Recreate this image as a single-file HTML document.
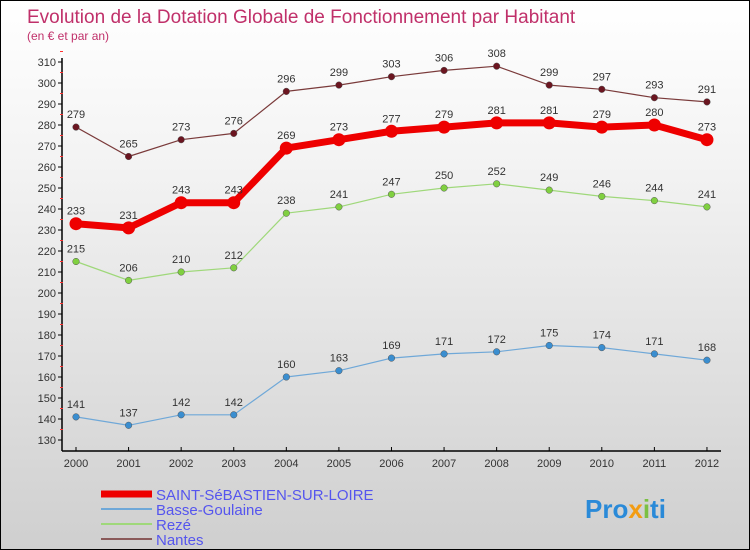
<!DOCTYPE html>
<html><head><meta charset="utf-8"><style>
body{margin:0}
#wrap{position:relative;width:750px;height:550px;box-sizing:border-box;border:1px solid #000;background:linear-gradient(#fff 0%,#f3f3f3 30%,#cfcfcf 100%);font-family:"Liberation Sans",sans-serif;overflow:hidden}
svg{position:absolute;left:0;top:0}
</style></head><body>
<div id="wrap">
<svg id="c" width="750" height="550">
<text x="26" y="22" font-size="19" fill="#c0306a">Evolution de la Dotation Globale de Fonctionnement par Habitant</text>
<text x="26" y="39" font-size="12" fill="#c0306a">(en € et par an)</text>
<text x="584" y="517" font-size="26" font-weight="bold" fill="#2a8ad8">Pro<tspan fill="#f39c12">x</tspan><tspan fill="#7bc043">i</tspan>ti</text>
</svg>
</div>
<script>
const years=[2000,2001,2002,2003,2004,2005,2006,2007,2008,2009,2010,2011,2012];
const yTicks=[130,140,150,160,170,180,190,200,210,220,230,240,250,260,270,280,290,300,310];
const nantes=[279,265,273,276,296,299,303,306,308,299,297,293,291];
const saint=[233,231,243,243,269,273,277,279,281,281,279,280,273];
const reze=[215,206,210,212,238,241,247,250,252,249,246,244,241];
const basse=[141,137,142,142,160,163,169,171,172,175,174,171,168];
const NS="http://www.w3.org/2000/svg";
const svg=document.getElementById('c');
const X=i=>75+i*52.58;
const Y=v=>61+(310-v)*2.1;
function mk(t,a,p){const e=document.createElementNS(NS,t);for(const k in a)e.setAttribute(k,a[k]);(p||svg).appendChild(e);return e;}
const axes=mk('g',{});


mk('line',{x1:61,y1:57,x2:61,y2:450,stroke:'#000','stroke-width':1.5},axes);
mk('line',{x1:61,y1:450,x2:720,y2:450,stroke:'#000','stroke-width':1.5},axes);
yTicks.forEach(v=>{
 mk('line',{x1:57,y1:Y(v),x2:61,y2:Y(v),stroke:'#000'},axes);
 mk('line',{x1:59,y1:Y(v)-10.5,x2:62,y2:Y(v)-10.5,stroke:'#f33'},axes);
 const t=mk('text',{x:55,y:Y(v)+4,'text-anchor':'end','font-size':11,fill:'#333'},axes);t.textContent=v;
 
 
});
years.forEach((y,i)=>{
 mk('line',{x1:X(i),y1:446,x2:X(i),y2:450,stroke:'#000'},axes);
 const t=mk('text',{x:X(i),y:466,'text-anchor':'middle','font-size':11,fill:'#333'},axes);t.textContent=y;
 
 
});
function series(data,name,color,w,r,dot){
 const g=mk('g',{});
 
 
 mk('polyline',{points:data.map((v,i)=>X(i)+','+Y(v)).join(' '),fill:'none',stroke:color,'stroke-width':w,'stroke-linejoin':'round'},g);
 data.forEach((v,i)=>{
  const c=mk('circle',{cx:X(i),cy:Y(v),r:r,fill:dot,stroke:'#555','stroke-width':r>5?0:0.5},g);
  
  
  const t=mk('text',{x:X(i),y:Y(v)-9,'text-anchor':'middle','font-size':11,fill:'#333'},g);t.textContent=v;
  
  
 });
}
series(nantes,'nantes','#7a3a3a',1.2,3.3,'#6b1520');
series(basse,'basse-goulaine','#6fa8d8',1.2,3.3,'#3a8ed0');
series(reze,'reze','#9fd87a',1.2,3.3,'#80d040');
series(saint,'saint-sebastien','#ee0000',7,6.5,'#ee0000');
const leg=[['SAINT-SéBASTIEN-SUR-LOIRE','#ee0000',7],['Basse-Goulaine','#6fa8d8',2],['Rezé','#9fd87a',2],['Nantes','#8a5a5a',2]];
leg.forEach((l,i)=>{
 const g=mk('g',{});
 
 
 const y=493+i*15;
 mk('line',{x1:100,y1:y,x2:151,y2:y,stroke:l[1],'stroke-width':l[2]},g);
 const t=mk('text',{x:155,y:y+6,'font-size':15,fill:'#5555ee'},g);t.textContent=l[0];
});
</script>
</body></html>
